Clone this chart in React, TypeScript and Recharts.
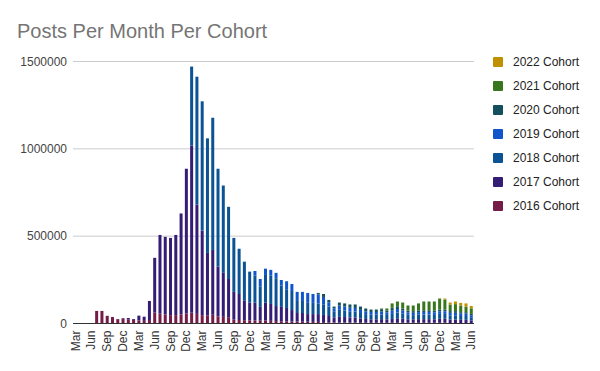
import { BarChart, Bar, XAxis, YAxis, CartesianGrid } from "recharts";

// months from Mar 2016 to Jun 2022
const months = [
  "Mar", "Apr", "May", "Jun", "Jul", "Aug", "Sep", "Oct", "Nov", "Dec",
  "Jan", "Feb", "Mar", "Apr", "May", "Jun", "Jul", "Aug", "Sep", "Oct", "Nov", "Dec",
  "Jan", "Feb", "Mar", "Apr", "May", "Jun", "Jul", "Aug", "Sep", "Oct", "Nov", "Dec",
  "Jan", "Feb", "Mar", "Apr", "May", "Jun", "Jul", "Aug", "Sep", "Oct", "Nov", "Dec",
  "Jan", "Feb", "Mar", "Apr", "May", "Jun", "Jul", "Aug", "Sep", "Oct", "Nov", "Dec",
  "Jan", "Feb", "Mar", "Apr", "May", "Jun", "Jul", "Aug", "Sep", "Oct", "Nov", "Dec",
  "Jan", "Feb", "Mar", "Apr", "May", "Jun",
];

const cohort2016 = [
  0, 0, 0, 0, 72000, 72000, 44000, 37000, 25000, 28000,
  24000, 20000, 18000, 15000, 20000, 62000, 56000, 52000, 48000, 48000, 52000, 58000,
  62000, 55000, 48000, 45000, 50000, 40000, 38000, 36000, 22000, 20000, 19000, 18000,
  17000, 16000, 17000, 15000, 14000, 13000, 12000, 12000, 11000, 10000, 10000, 9000,
  9000, 8000, 7000, 5000, 5000, 5000, 5000, 5000, 4000, 4000, 4000, 4000,
  4000, 4000, 4000, 4000, 4000, 4000, 4000, 4000, 4000, 4000, 4000, 4000,
  4000, 3000, 3000, 3000, 3000, 3000,
];

const cohort2017 = [
  0, 0, 0, 0, 0, 0, 0, 0, 0, 3000,
  7000, 5000, 27000, 24000, 109000, 314000, 451000, 444000, 442000, 459000, 578000, 828000,
  956000, 626000, 484000, 359000, 371000, 286000, 252000, 219000, 159000, 149000, 114000, 101000,
  102000, 79000, 102000, 97000, 86000, 82000, 77000, 65000, 49000, 50000, 44000, 45000,
  45000, 41000, 36000, 30000, 33000, 32000, 30000, 30000, 25000, 22000, 20000, 20000,
  21000, 20000, 22000, 26000, 24000, 20000, 20000, 21000, 21000, 21000, 20000, 23000,
  23000, 20000, 20000, 18000, 18000, 15000,
];

const cohort2018 = [
  0, 0, 0, 0, 0, 0, 0, 0, 0, 0,
  0, 0, 0, 0, 0, 0, 0, 0, 0, 0, 0, 0,
  453000, 732000, 740000, 656000, 757000, 560000, 500000, 413000, 309000, 259000, 221000, 178000,
  155000, 118000, 159000, 162000, 159000, 122000, 107000, 109000, 69000, 69000, 64000, 64000,
  60000, 61000, 54000, 35000, 40000, 38000, 35000, 34000, 31000, 28000, 26000, 26000,
  27000, 25000, 29000, 33000, 30000, 26000, 24000, 26000, 26000, 26000, 25000, 28000,
  28000, 24000, 24000, 22000, 22000, 18000,
];

const cohort2019 = [
  0, 0, 0, 0, 0, 0, 0, 0, 0, 0,
  0, 0, 0, 0, 0, 0, 0, 0, 0, 0, 0, 0,
  0, 0, 0, 0, 0, 0, 0, 0, 0, 0, 0, 0,
  27000, 42000, 36000, 33000, 31000, 32000, 46000, 40000, 52000, 52000, 57000, 51000,
  53000, 42000, 24000, 17000, 25000, 22000, 20000, 20000, 18000, 16000, 16000, 16000,
  16000, 15000, 18000, 20000, 16000, 14000, 13000, 14000, 15000, 15000, 15000, 15000,
  15000, 14000, 14000, 13000, 13000, 11000,
];

const cohort2020 = [
  0, 0, 0, 0, 0, 0, 0, 0, 0, 0,
  0, 0, 0, 0, 0, 0, 0, 0, 0, 0, 0, 0,
  0, 0, 0, 0, 0, 0, 0, 0, 0, 0, 0, 0,
  0, 0, 0, 0, 0, 0, 0, 0, 0, 0, 0, 0,
  8000, 17000, 14000, 10000, 17000, 18000, 19000, 20000, 19000, 16000, 14000, 14000,
  14000, 11000, 17000, 16000, 12000, 10000, 10000, 10000, 10000, 10000, 10000, 10000,
  10000, 10000, 10000, 9000, 9000, 8000,
];

const cohort2021 = [
  0, 0, 0, 0, 0, 0, 0, 0, 0, 0,
  0, 0, 0, 0, 0, 0, 0, 0, 0, 0, 0, 0,
  0, 0, 0, 0, 0, 0, 0, 0, 0, 0, 0, 0,
  0, 0, 0, 0, 0, 0, 0, 0, 0, 0, 0, 0,
  0, 0, 0, 0, 0, 0, 0, 0, 0, 0, 0, 0,
  4000, 11000, 25000, 27000, 34000, 29000, 32000, 40000, 50000, 50000, 52000, 63000,
  57000, 38000, 40000, 38000, 31000, 32000,
];

const cohort2022 = [
  0, 0, 0, 0, 0, 0, 0, 0, 0, 0,
  0, 0, 0, 0, 0, 0, 0, 0, 0, 0, 0, 0,
  0, 0, 0, 0, 0, 0, 0, 0, 0, 0, 0, 0,
  0, 0, 0, 0, 0, 0, 0, 0, 0, 0, 0, 0,
  0, 0, 0, 0, 0, 0, 0, 0, 0, 0, 0, 0,
  0, 0, 0, 0, 0, 0, 0, 0, 0, 0, 0, 0,
  6000, 11000, 15000, 15000, 19000, 13000,
];

const yTicks = [0, 500000, 1000000, 1500000];

// bottom to top in the stack
const cohorts = [
  { key: "c2016", name: "2016 Cohort", color: "#741b47" },
  { key: "c2017", name: "2017 Cohort", color: "#351c75" },
  { key: "c2018", name: "2018 Cohort", color: "#0b5394" },
  { key: "c2019", name: "2019 Cohort", color: "#1155cc" },
  { key: "c2020", name: "2020 Cohort", color: "#134f5c" },
  { key: "c2021", name: "2021 Cohort", color: "#38761d" },
  { key: "c2022", name: "2022 Cohort", color: "#bf9000" },
];

const data = months.map((m, i) => ({
  month: m,
  c2016: cohort2016[i],
  c2017: cohort2017[i],
  c2018: cohort2018[i],
  c2019: cohort2019[i],
  c2020: cohort2020[i],
  c2021: cohort2021[i],
  c2022: cohort2022[i],
}));

const font = "'Liberation Sans', Arial, sans-serif";

function MonthTick({ x, y, payload }: any) {
  return (
    <text
      transform={`translate(${x},${y + 5}) rotate(-90)`}
      textAnchor="end"
      dominantBaseline="central"
      fontSize={12}
      fill="#333"
    >
      {payload.value}
    </text>
  );
}

export default function App() {
  const legendItems = [...cohorts].reverse();
  return (
    <div style={{ position: "absolute", left: 0, top: 0, width: 600, height: 371, fontFamily: font, background: "#fff" }}>
      <div style={{ position: "absolute", left: 17, top: 21, fontSize: 20, lineHeight: "20px", color: "#757575", whiteSpace: "nowrap" }}>
        Posts Per Month Per Cohort
      </div>
      <BarChart
        width={600}
        height={371}
        data={data}
        margin={{ top: 61.5, right: 126, left: 0, bottom: 0 }}
        barCategoryGap="20%"
      >
        <CartesianGrid vertical={false} stroke="#cccccc" />
        <XAxis
          dataKey="month"
          interval={2}
          height={47.5}
          tickLine={false}
          tickSize={0}
          tick={<MonthTick />}
          axisLine={{ stroke: "#333" }}
        />
        <YAxis
          width={73}
          domain={[0, 1500000]}
          ticks={yTicks}
          axisLine={false}
          tickLine={false}
          tickSize={4}
          tickMargin={2}
          tick={{ fontSize: 12, fill: "#444" }}
        />
        {cohorts.map((c) => (
          <Bar key={c.key} dataKey={c.key} name={c.name} stackId="a" fill={c.color} isAnimationActive={false} />
        ))}
      </BarChart>
      {legendItems.map((c, i) => (
        <div
          key={c.key}
          style={{ position: "absolute", left: 493, top: 56 + i * 24, height: 12, display: "flex", alignItems: "center", whiteSpace: "nowrap" }}
        >
          <div style={{ width: 10, height: 10, background: c.color, borderRadius: 1 }} />
          <span style={{ marginLeft: 10, fontSize: 12, color: "#222" }}>{c.name}</span>
        </div>
      ))}
    </div>
  );
}
